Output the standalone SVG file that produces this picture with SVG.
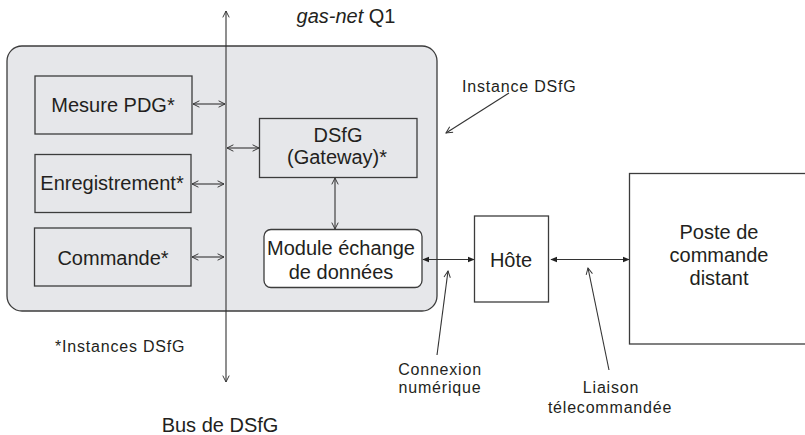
<svg xmlns="http://www.w3.org/2000/svg" width="805" height="435" viewBox="0 0 805 435">
<defs>
<style>
.t{font-family:"Liberation Sans",Arial,sans-serif;font-size:20px;fill:#231f20}
.s{font-family:"Liberation Sans",Arial,sans-serif;font-size:16px;fill:#231f20;letter-spacing:0.8px}
.c{text-anchor:middle}
.box{fill:none;stroke:#3c3c3c;stroke-width:1.3}
.ln{fill:none;stroke:#333;stroke-width:1.1}
</style>
<marker id="o" viewBox="0 0 10 10" refX="9" refY="5" markerWidth="8" markerHeight="8" markerUnits="userSpaceOnUse" orient="auto-start-reverse">
<path d="M1,1 L9,5 L1,9" fill="none" stroke="#333" stroke-width="1.2"/>
</marker>
<marker id="f" viewBox="0 0 10 10" refX="9" refY="5" markerWidth="7" markerHeight="7" markerUnits="userSpaceOnUse" orient="auto-start-reverse">
<path d="M0,1 L10,5 L0,9 Z" fill="#222"/>
</marker>
</defs>
<rect width="805" height="435" fill="#fff"/>
<g id="gasnet">
<rect x="7" y="46" width="430" height="265" rx="15" fill="#e6e7ea" stroke="#3c3c3c" stroke-width="1.3"/>
<text class="t c" x="346" y="23"><tspan font-style="italic">gas-net</tspan> Q1</text>
</g>
<g id="connectors">
<line class="ln" x1="226" y1="11" x2="226" y2="382" marker-start="url(#o)" marker-end="url(#o)"/>
<line class="ln" x1="193" y1="104" x2="225" y2="104" marker-start="url(#o)" marker-end="url(#o)"/>
<line class="ln" x1="192" y1="184" x2="224" y2="184" marker-start="url(#o)" marker-end="url(#o)"/>
<line class="ln" x1="192" y1="257" x2="224" y2="257" marker-start="url(#o)" marker-end="url(#o)"/>
<line class="ln" x1="227" y1="148" x2="259" y2="148" marker-start="url(#o)" marker-end="url(#o)"/>
<line class="ln" x1="335" y1="178" x2="335" y2="229" marker-start="url(#o)" marker-end="url(#o)"/>
<line class="ln" x1="423" y1="259.5" x2="474" y2="259.5" marker-start="url(#f)" marker-end="url(#f)"/>
<line class="ln" x1="551" y1="259.5" x2="629" y2="259.5" marker-start="url(#f)" marker-end="url(#f)"/>
<line class="ln" x1="509" y1="93" x2="446" y2="133" marker-end="url(#o)"/>
<line class="ln" x1="437" y1="355" x2="448" y2="271" marker-end="url(#o)"/>
<line class="ln" x1="609" y1="370" x2="588" y2="268" marker-end="url(#o)"/>
</g>
<g id="mesure">
<rect class="box" x="35" y="76" width="157" height="58"/>
<text class="t c" x="113" y="111.5">Mesure PDG*</text>
</g>
<g id="enregistrement">
<rect class="box" x="35" y="154.5" width="156" height="58"/>
<text class="t c" x="112" y="189.5">Enregistrement*</text>
</g>
<g id="commande">
<rect class="box" x="34.5" y="228" width="156.5" height="58"/>
<text class="t c" x="113" y="264.5">Commande*</text>
</g>
<g id="gateway">
<rect class="box" x="259.5" y="118.5" width="157.5" height="59"/>
<text class="t c" x="338" y="141.5">DSfG</text>
<text class="t c" x="337" y="164">(Gateway)*</text>
</g>
<g id="module">
<rect x="264" y="229.5" width="158" height="58" rx="7" fill="#fff" stroke="#3c3c3c" stroke-width="1.3"/>
<text class="t c" x="341" y="255">Module échange</text>
<text class="t c" x="341" y="278.5">de données</text>
</g>
<g id="hote">
<rect class="box" x="474.5" y="216" width="74" height="86"/>
<text class="t c" x="511" y="267">Hôte</text>
</g>
<g id="poste">
<rect class="box" x="629.5" y="173.5" width="190" height="170.5"/>
<text class="t c" x="719" y="238.5">Poste de</text>
<text class="t c" x="719" y="261.5">commande</text>
<text class="t c" x="719" y="284.5">distant</text>
</g>
<g id="labels">
<text class="s" x="462" y="91.5">Instance DSfG</text>
<text class="s" x="55" y="352">*Instances DSfG</text>
<text class="s c" x="440" y="374.5">Connexion</text>
<text class="s c" x="440" y="393">numérique</text>
<text class="s c" x="611" y="393">Liaison</text>
<text class="s c" x="610" y="413">télecommandée</text>
<text class="t c" x="220" y="431.5">Bus de DSfG</text>
</g>
</svg>
